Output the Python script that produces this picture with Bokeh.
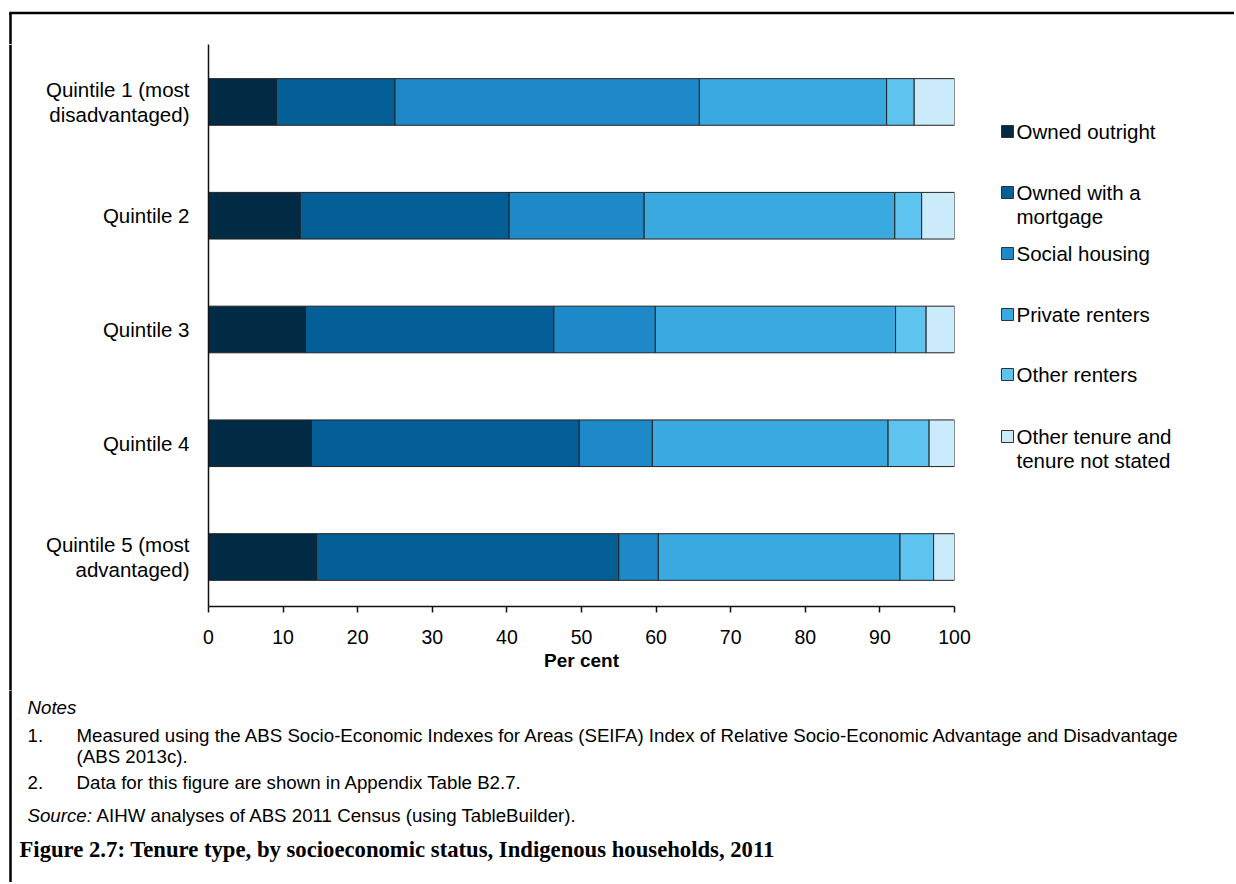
from bokeh.plotting import figure
from bokeh.layouts import column, row
from bokeh.models import ColumnDataSource, Range1d, FixedTicker
from bokeh.core.properties import value
from bokeh.embed import file_html
from bokeh.resources import INLINE

# ---- data ----
categories = ["Quintile 1 (most\ndisadvantaged)", "Quintile 2", "Quintile 3",
              "Quintile 4", "Quintile 5 (most\nadvantaged)"]
series = ["Owned outright", "Owned with a mortgage", "Social housing",
          "Private renters", "Other renters", "Other tenure and tenure not stated"]
legend_lines = [["Owned outright"], ["Owned with a", "mortgage"], ["Social housing"],
                ["Private renters"], ["Other renters"], ["Other tenure and", "tenure not stated"]]
owned_outright = [9.1, 12.3, 13.0, 13.8, 14.5]
owned_mortgage = [15.9, 28.0, 33.3, 35.9, 40.5]
social_housing = [40.8, 18.1, 13.6, 9.8, 5.3]
private_renters = [25.1, 33.6, 32.2, 31.6, 32.4]
other_renters = [3.7, 3.6, 4.1, 5.5, 4.5]
other_tenure = [5.4, 4.4, 3.8, 3.4, 2.8]
x_ticks = [0, 10, 20, 30, 40, 50, 60, 70, 80, 90, 100]
colors = ["#012b44", "#035f96", "#1d89c8", "#3aa9df", "#5ec4ef", "#cbeafa"]

notes_text = [
    ("1.", "Measured using the ABS Socio-Economic Indexes for Areas (SEIFA) Index of Relative "
           "Socio-Economic Advantage and Disadvantage"),
    ("", "(ABS 2013c)."),
    ("2.", "Data for this figure are shown in Appendix Table B2.7."),
]
source_text = "AIHW analyses of ABS 2011 Census (using TableBuilder)."
title_text = "Figure 2.7: Tenure type, by socioeconomic status, Indigenous households, 2011"

FONT = "Liberation Sans"
TOTAL_W = 1234
TOP_H = 44          # strip above the chart frame
MID_H = 646         # chart row height
BOT_H = 194 - 2     # notes area
LEFT_W = 20
CHART_W = 970
LEG_W = TOTAL_W - LEFT_W - CHART_W
BORDER_X = 10
BORDER_Y = 12.5
RULE_W = 2.5


def blank(w, h, x0, y0):
    """figure whose frame fills the whole canvas, with pixel coordinates (y downward)."""
    f = figure(width=w, height=h, output_backend="svg", toolbar_location=None,
               x_range=Range1d(x0, x0 + w), y_range=Range1d(y0 + h, y0),
               x_axis_type=None, y_axis_type=None, frame_align=False,
               min_border_left=0, min_border_right=0, min_border_top=0, min_border_bottom=0)
    f.outline_line_color = None
    f.xgrid.visible = False
    f.ygrid.visible = False
    f.background_fill_color = "white"
    f.border_fill_color = "white"
    return f


def txt(f, x, y, t, size, style="normal", font=FONT, align="left"):
    f.text(x=[x], y=[y], text=[t], text_font=value(font), text_font_size=value(size),
           text_font_style=style, text_color="black", text_align=align,
           text_baseline="middle")


# ---- top strip (frame rule) ----
top = blank(TOTAL_W, TOP_H, 0, 0)
top.segment(x0=[BORDER_X - RULE_W / 2], y0=[BORDER_Y], x1=[TOTAL_W], y1=[BORDER_Y],
            line_color="black", line_width=RULE_W)
top.segment(x0=[BORDER_X], y0=[BORDER_Y], x1=[BORDER_X], y1=[TOP_H],
            line_color="black", line_width=RULE_W)

# ---- left strip ----
left = blank(LEFT_W, MID_H, 0, TOP_H)
left.segment(x0=[BORDER_X], y0=[TOP_H], x1=[BORDER_X], y1=[TOP_H + MID_H],
             line_color="black", line_width=RULE_W)

# ---- chart ----
n = len(categories)
pos = [n - 1 - i for i in range(n)]
keys = ["s0", "s1", "s2", "s3", "s4", "s5"]
source = ColumnDataSource(dict(pos=pos, s0=owned_outright, s1=owned_mortgage,
                               s2=social_housing, s3=private_renters,
                               s4=other_renters, s5=other_tenure))

FL, FW, FH = 208 - LEFT_W, 746, 562
p = figure(width=CHART_W, height=MID_H, output_backend="svg", toolbar_location=None,
           x_range=Range1d(0, 100), y_range=Range1d(-0.435, 4.505), frame_align=False,
           min_border_left=FL, min_border_right=CHART_W - FL - FW,
           min_border_top=0, min_border_bottom=MID_H - FH)
p.outline_line_color = None
p.xgrid.visible = False
p.ygrid.visible = False
p.background_fill_color = "white"
p.border_fill_color = "white"

p.hbar_stack(keys, y="pos", height=0.41, color=colors, line_color="#222222",
             line_width=1, source=source)

p.yaxis.ticker = FixedTicker(ticks=pos)
p.yaxis.major_label_overrides = {pos[i]: categories[i] for i in range(n)}
p.yaxis.major_tick_line_color = None
p.yaxis.minor_tick_line_color = None
p.yaxis.axis_line_color = "#111111"
p.yaxis.axis_line_width = 1.5
p.yaxis.major_label_text_font = FONT
p.yaxis.major_label_text_font_size = "20.5px"
p.yaxis.major_label_text_color = "black"
p.yaxis.major_label_text_line_height = 1.07
p.yaxis.major_label_standoff = 13

p.xaxis.ticker = FixedTicker(ticks=x_ticks)
p.xaxis.minor_tick_line_color = None
p.xaxis.major_tick_in = 0
p.xaxis.major_tick_out = 6
p.xaxis.major_tick_line_color = "#111111"
p.xaxis.major_tick_line_width = 1.5
p.xaxis.axis_line_color = "#111111"
p.xaxis.axis_line_width = 1.5
p.xaxis.major_label_text_font = FONT
p.xaxis.major_label_text_font_size = "19.5px"
p.xaxis.major_label_text_color = "black"
p.xaxis.major_label_standoff = 17
p.xaxis.axis_label = "Per cent"
p.xaxis.axis_label_text_font = FONT
p.xaxis.axis_label_text_font_size = "19px"
p.xaxis.axis_label_text_font_style = "bold"
p.xaxis.axis_label_text_color = "black"
p.xaxis.axis_label_standoff = 3

# ---- legend ----
leg = blank(LEG_W, MID_H, LEFT_W + CHART_W, TOP_H)
item_y = [131, 192, 253, 314, 374, 436]
leg.rect(x=[1007] * len(colors), y=item_y, width=12, height=12, fill_color=colors,
         line_color="#333333", line_width=1)
for i, lines in enumerate(legend_lines):
    for j, t in enumerate(lines):
        txt(leg, 1016, item_y[i] + 24 * j, t, "20.5px")

# ---- notes ----
notes = blank(TOTAL_W, BOT_H, 0, TOP_H + MID_H)
notes.segment(x0=[BORDER_X], y0=[TOP_H + MID_H - 2], x1=[BORDER_X], y1=[TOP_H + MID_H + BOT_H],
              line_color="black", line_width=RULE_W)
NS = "18.7px"
txt(notes, 27, 707, "Notes", NS, style="italic")
note_y = [735, 756, 782]
for (num, body), y in zip(notes_text, note_y):
    if num:
        txt(notes, 27, y, num, NS)
    txt(notes, 76, y, body, NS)
txt(notes, 27, 815, "Source:", NS, style="italic")
txt(notes, 96, 815, source_text, NS)
txt(notes, 19, 849, title_text, "22.7px", style="bold", font="Liberation Serif")

layout = column(top, row(left, p, leg), notes)
open("out.html", "w").write(file_html(layout, INLINE))
